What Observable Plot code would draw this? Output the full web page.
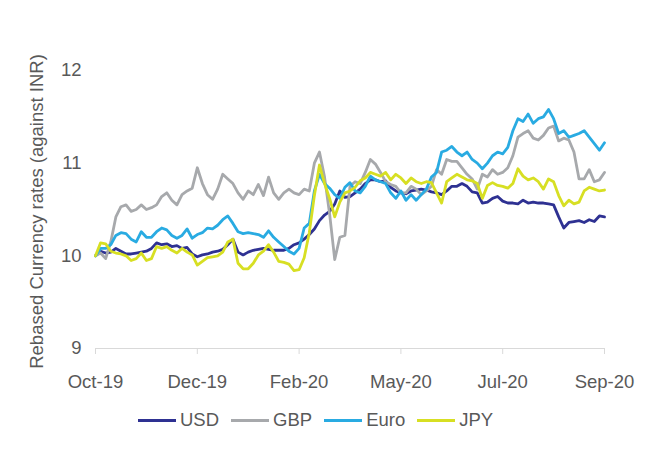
<!DOCTYPE html>
<html>
<head>
<meta charset="utf-8">
<script src="https://cdn.jsdelivr.net/npm/d3@7"></script>
<script src="https://cdn.jsdelivr.net/npm/@observablehq/plot@0.6"></script>
<style>
  body { margin: 0; background: #fff; font-family: "Liberation Sans", Arial, sans-serif; }
  #chart { width: 654px; height: 452px; position: relative; }
  #chart svg { position: absolute; left: 0; top: 0; }
  .legend { position: absolute; left: 138px; top: 409px; height: 22px; display: flex; align-items: center; font-size: 18.5px; color: #595959; }
  .legend .item { display: flex; align-items: center; margin-right: 12px; }
  .legend .sw { width: 38px; height: 3px; margin-right: 4px; }
</style>
</head>
<body>
<div id="chart"></div>
<script>
const tickIndex = [0, 20, 40, 60, 80, 100];
const tickLabels = ["Oct-19", "Dec-19", "Feb-20", "May-20", "Jul-20", "Sep-20"];
const seriesNames = ["USD", "GBP", "Euro", "JPY"];
const seriesColors = ["#2E3192", "#A7A9AC", "#29ABE2", "#D7DF23"];

const usd = [10.00,10.05,10.03,10.04,10.08,10.05,10.02,10.02,10.03,10.04,
  10.05,10.08,10.14,10.12,10.13,10.10,10.11,10.08,10.09,10.02,
  9.99,10.01,10.02,10.04,10.05,10.07,10.12,10.18,10.04,10.01,
  10.04,10.06,10.07,10.08,10.07,10.06,10.06,10.06,10.08,10.12,
  10.14,10.18,10.23,10.29,10.38,10.44,10.48,10.56,10.70,10.63,
  10.64,10.68,10.72,10.78,10.82,10.82,10.80,10.81,10.74,10.70,
  10.68,10.67,10.70,10.71,10.72,10.71,10.69,10.68,10.66,10.70,
  10.75,10.75,10.78,10.75,10.69,10.68,10.57,10.58,10.62,10.64,
  10.59,10.57,10.57,10.56,10.60,10.57,10.58,10.57,10.57,10.56,
  10.55,10.42,10.30,10.36,10.37,10.38,10.36,10.39,10.37,10.43,10.42];
const gbp = [10.00,10.03,9.97,10.15,10.42,10.53,10.55,10.48,10.50,10.55,
  10.50,10.52,10.55,10.64,10.68,10.60,10.55,10.66,10.70,10.73,
  10.95,10.78,10.66,10.61,10.72,10.88,10.83,10.78,10.68,10.61,
  10.70,10.66,10.77,10.65,10.85,10.68,10.61,10.68,10.72,10.68,
  10.66,10.72,10.70,11.00,11.12,10.85,10.45,9.96,10.20,10.22,
  10.75,10.80,10.78,10.90,11.04,10.99,10.90,10.80,10.77,10.75,
  10.68,10.68,10.75,10.72,10.66,10.70,10.75,10.93,10.88,11.04,
  11.02,11.02,10.95,10.88,10.83,10.72,10.88,10.85,10.93,10.88,
  10.90,10.95,11.08,11.28,11.32,11.35,11.27,11.25,11.30,11.38,
  11.40,11.24,11.27,11.25,11.12,10.83,10.83,10.93,10.80,10.82,10.90];
const euro = [10.00,10.08,10.08,10.12,10.22,10.25,10.24,10.18,10.15,10.26,
  10.20,10.20,10.26,10.30,10.28,10.22,10.19,10.22,10.29,10.19,
  10.23,10.25,10.30,10.29,10.33,10.39,10.43,10.35,10.26,10.24,
  10.25,10.24,10.23,10.20,10.27,10.20,10.15,10.10,10.05,10.02,
  10.08,10.30,10.35,10.70,10.88,10.78,10.73,10.66,10.62,10.74,
  10.79,10.70,10.68,10.75,10.86,10.82,10.80,10.78,10.68,10.62,
  10.70,10.60,10.66,10.60,10.66,10.72,10.85,10.90,11.12,11.14,
  11.18,11.12,11.08,11.12,11.04,11.00,10.94,11.00,11.08,11.12,
  11.10,11.17,11.35,11.48,11.45,11.53,11.43,11.48,11.50,11.58,
  11.48,11.32,11.35,11.28,11.30,11.32,11.35,11.28,11.21,11.14,11.22];
const jpy = [10.00,10.14,10.13,10.05,10.03,10.02,10.00,9.95,9.97,10.03,
  9.95,9.97,10.10,10.08,10.10,10.06,10.03,10.08,10.04,10.01,
  9.90,9.94,9.98,9.99,10.00,10.04,10.15,10.18,9.92,9.86,
  9.86,9.92,10.01,10.05,10.12,10.04,9.94,9.93,9.91,9.84,
  9.85,9.98,10.25,10.65,10.98,10.78,10.62,10.42,10.58,10.68,
  10.70,10.74,10.81,10.84,10.90,10.88,10.86,10.90,10.82,10.88,
  10.84,10.78,10.84,10.80,10.78,10.80,10.79,10.68,10.57,10.80,
  10.84,10.88,10.85,10.82,10.81,10.78,10.62,10.76,10.79,10.76,
  10.75,10.73,10.78,10.94,10.86,10.82,10.84,10.80,10.72,10.83,
  10.80,10.65,10.54,10.60,10.56,10.58,10.70,10.74,10.72,10.70,10.71];

const seriesValues = [usd, gbp, euro, jpy];
const data = seriesNames.flatMap((name, s) =>
  seriesValues[s].map((v, i) => ({ i, value: v, series: name })));

const textColor = "#595959";
const axisColor = "#D9D9D9";

const chart = Plot.plot({
  width: 654,
  height: 402,
  marginTop: 70,
  marginBottom: 54,
  marginLeft: 95,
  marginRight: 50,
  style: { fontFamily: "'Liberation Sans', Arial, sans-serif", fontSize: "18.5px", color: textColor, background: "transparent" },
  x: { domain: [0, 100] },
  y: { domain: [9, 12] },
  color: { domain: seriesNames, range: seriesColors },
  marks: [
    Plot.ruleY([9], { stroke: axisColor, strokeWidth: 1 }),
    Plot.axisX({ ticks: tickIndex, tickFormat: (d) => tickLabels[tickIndex.indexOf(d)], tickSize: 6, tickPadding: 20, stroke: axisColor, fill: textColor, label: null }),
    Plot.axisY({ ticks: [9, 10, 11, 12], tickFormat: d3.format("d"), tickSize: 0, tickPadding: 14, fill: textColor, label: null }),
    Plot.text(["Rebased Currency rates (against INR)"], { frameAnchor: "left", textAnchor: "middle", rotate: -90, dx: -58, dy: 2, fill: textColor, fontSize: 18.5 }),
    Plot.line(data, { x: "i", y: "value", z: "series", stroke: "series", strokeWidth: 2.8, strokeLinejoin: "round", strokeLinecap: "round" })
  ]
});

const root = document.getElementById("chart");
root.appendChild(chart);

const legend = document.createElement("div");
legend.className = "legend";
seriesNames.forEach((name, k) => {
  const item = document.createElement("div");
  item.className = "item";
  const sw = document.createElement("span");
  sw.className = "sw";
  sw.style.background = seriesColors[k];
  const t = document.createElement("span");
  t.textContent = name;
  item.appendChild(sw);
  item.appendChild(t);
  legend.appendChild(item);
});
root.appendChild(legend);
</script>
</body>
</html>
